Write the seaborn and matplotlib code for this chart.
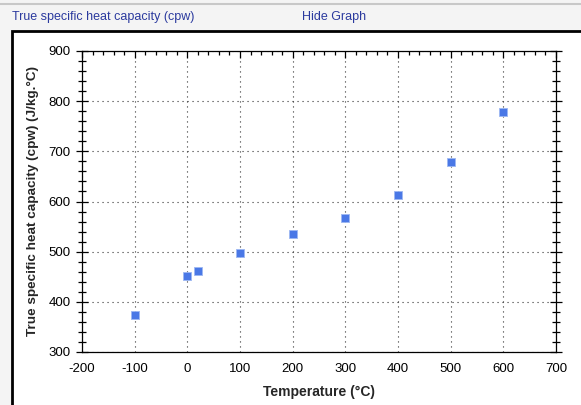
import numpy as np
import pandas as pd
import matplotlib.pyplot as plt
import seaborn as sns
from matplotlib.patches import Rectangle
from matplotlib.lines import Line2D
from matplotlib.ticker import MultipleLocator

# Dados
temperatura = [-100, 0, 20, 100, 200, 300, 400, 500, 600]
cpw = [373, 452, 461, 497, 535, 568, 612, 678, 779]

df = pd.DataFrame({'Temperatura': temperatura, 'cpw': cpw})

sns.set_style('white')
plt.rcParams['font.family'] = ['Liberation Sans', 'DejaVu Sans']
plt.rcParams['axes.unicode_minus'] = False

fig = plt.figure(figsize=(5.81, 4.05), dpi=100)
fig.patch.set_facecolor('#f4f4f4')

# Linha cinza no topo e caixa do gráfico
fig.lines.append(Line2D([0, 1], [1 - 3.5 / 405] * 2, transform=fig.transFigure,
                        color='#c8c8c8', linewidth=1.5))
caixa = Rectangle((12 / 581, -0.01), 1.0, 1 - 31 / 405 + 0.01, transform=fig.transFigure,
                  facecolor='white', edgecolor='black', linewidth=2, zorder=-5)
fig.patches.append(caixa)

fig.text(12 / 581, 1 - 17 / 405, 'True specific heat capacity (cpw)', color='#2b3a9e',
         fontsize=9, va='center', ha='left')
fig.text(302 / 581, 1 - 17 / 405, 'Hide Graph', color='#2b3a9e',
         fontsize=9, va='center', ha='left')

ax = fig.add_axes([82 / 581, 1 - 352 / 405, (556 - 82) / 581, (352 - 51) / 405])
ax.set_zorder(2)
ax.set_facecolor('white')
sns.scatterplot(data=df, x='Temperatura', y='cpw', marker='s', s=38, color='#4a78e6',
                edgecolor='#9db8f2', linewidth=0.6, ax=ax, zorder=3)

ax.set_xlim(-200, 700)
ax.set_ylim(300, 900)
ax.xaxis.set_major_locator(MultipleLocator(100))
ax.xaxis.set_minor_locator(MultipleLocator(20))
ax.yaxis.set_major_locator(MultipleLocator(100))
ax.yaxis.set_minor_locator(MultipleLocator(20))
ax.grid(True, which='major', linestyle=(0, (1, 3.5)), color='#333333', linewidth=0.8)

for s in ax.spines.values():
    s.set_linewidth(0.9)
    s.set_color('black')

ax.tick_params(which='both', top=True, right=True, direction='in', colors='black',
               labelsize=9.5, width=0.9)
ax.tick_params(which='major', length=5)
ax.tick_params(which='minor', length=3)
ax.tick_params(axis='x', which='major', pad=8)
ax.tick_params(axis='y', which='both', left=True, direction='inout')
ax.tick_params(axis='y', which='major', length=8, pad=4)
ax.tick_params(axis='y', which='minor', length=6)

ax.set_xlabel('Temperature (°C)', fontsize=10, fontweight='bold', labelpad=7)
ax.set_ylabel('True specific heat capacity (cpw) (J/kg.°C)', fontsize=9.7,
              fontweight='bold', labelpad=7)

fig.savefig('out.png', dpi=100)
